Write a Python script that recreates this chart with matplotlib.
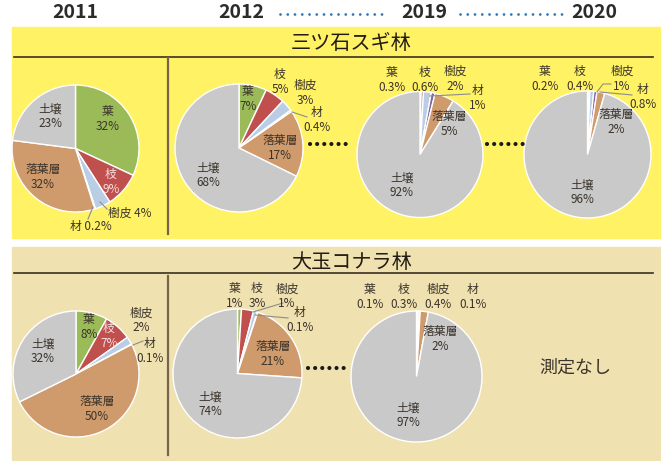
import matplotlib
matplotlib.use('Agg')
import matplotlib.pyplot as plt
from matplotlib.patches import Rectangle

plt.rcParams['font.family'] = ['Noto Sans CJK JP', 'DejaVu Sans']

W, H = 661, 461

# data
categories = ['葉', '枝', '樹皮', '材', '落葉層', '土壌']
years = ['2011', '2012', '2019', '2020']
forest_names = ['三ツ石スギ林', '大玉コナラ林']
no_data = '測定なし'

sugi_2011 = [32, 9, 4, 0.2, 32, 23]
sugi_2012 = [7, 5, 3, 0.4, 17, 68]
sugi_2019 = [0.3, 0.6, 2, 1, 5, 92]
sugi_2020 = [0.2, 0.4, 1, 0.8, 2, 96]
konara_2011 = [8, 7, 2, 0.1, 50, 32]
konara_2012 = [1, 3, 1, 0.1, 21, 74]
konara_2019 = [0.1, 0.3, 0.4, 0.1, 2, 97]

colors = ['#9BBB59', '#C0504D', '#B9CDE5', '#8064A2', '#CF9A6C', '#C9C9C9']
text_color = '#3b342c'
line_color = '#75654d'


def fmt(v):
    return f'{v:g}%'


def draw_pie(ax, cx, cy, r, values, label_pos, leaders=(), single=(), white=()):
    ax.pie(values, colors=colors, startangle=90, counterclock=False,
           center=(cx, H - cy), radius=r, frame=True,
           wedgeprops=dict(edgecolor='white', linewidth=1.0))
    for i, (cat, v) in enumerate(zip(categories, values)):
        x, y = label_pos[i]
        sep = ' ' if i in single else '\n'
        ax.text(x, H - y, cat + sep + fmt(v), ha='center', va='center',
                fontsize=8.5, linespacing=1.15, zorder=5,
                color='#f6dede' if i in white else text_color)
    for pts in leaders:
        ax.plot([p[0] for p in pts], [H - p[1] for p in pts],
                color='#8c8c8c', lw=0.8, zorder=4)


fig = plt.figure(figsize=(W / 100, H / 100), dpi=100)
ax = fig.add_axes([0, 0, 1, 1])

# panels
ax.add_patch(Rectangle((12, H - 238), W - 12, 211, color='#FFF264', zorder=0))
ax.add_patch(Rectangle((12, 0), W - 12, H - 247, color='#F0E1B0', zorder=0))

for title, ty, ly in [(forest_names[0], 44, 57), (forest_names[1], 263, 273)]:
    ax.text(351, H - ty, title, ha='center', va='center', fontsize=14.5,
            color='#231c14')
    ax.plot([14, 653], [H - ly, H - ly], color='#3a3020', lw=1.2)
ax.plot([168, 168], [H - 58, H - 234], color=line_color, lw=1.6)
ax.plot([168, 168], [H - 276, H - 455], color=line_color, lw=1.6)

# years
for yr, x in zip(years, [75, 241, 424, 594]):
    ax.text(x, H - 13, yr, ha='center', va='center', fontsize=14,
            fontweight='bold', color='#2b2b2b')
for x1, x2 in [(280, 388), (460, 564)]:
    ax.plot([x1, x2], [H - 14, H - 14], color='#2E75B6', lw=2,
            ls=(0, (0.01, 2.6)), dash_capstyle='round')

# dotted separators between pies
for x1, x2, y in [(310, 347, 144), (487, 525, 144), (308, 347, 368)]:
    ax.plot([x1, x2], [H - y, H - y], color='#1a1a1a', lw=3,
            ls=(0, (0.01, 1.7)), dash_capstyle='round')

draw_pie(ax, 75.5, 148.5, 63.5, sugi_2011,
         [(108, 119), (111, 182), (130, 213), (91, 226), (43, 177), (50, 116)],
         leaders=[[(100, 202), (107, 209)], [(93, 207), (88, 219)]],
         single=(2, 3), white=(1,))
draw_pie(ax, 239, 148, 64, sugi_2012,
         [(248, 99), (280, 82), (305, 93), (317, 120), (280, 148), (208, 175)],
         leaders=[[(292, 112), (307, 117)]])
draw_pie(ax, 420, 154.5, 63, sugi_2019,
         [(392, 80), (425, 80), (455, 79), (478, 98), (449, 124), (402, 185)],
         leaders=[[(430, 96), (470, 94)]])
draw_pie(ax, 587.5, 154.5, 63.5, sugi_2020,
         [(545, 79), (580, 79), (622, 79), (643, 97), (616, 122), (582, 192)],
         leaders=[[(597, 92), (603, 84), (611, 84)], [(600, 92), (632, 95)]])

draw_pie(ax, 76, 374, 63, konara_2011,
         [(89, 327), (109, 336), (141, 320), (150, 351), (97, 409), (43, 351)],
         leaders=[[(133, 345), (143, 341)]], white=(1,))
draw_pie(ax, 237.5, 373.5, 64.5, konara_2012,
         [(235, 296), (257, 296), (287, 296), (300, 320), (273, 354), (210, 404)],
         leaders=[[(283, 303), (253, 312)], [(255, 315), (288, 318)]])
draw_pie(ax, 416.5, 376.5, 65.5, konara_2019,
         [(370, 297), (404, 297), (438, 297), (473, 297), (440, 339), (408, 415)])

ax.text(575, H - 368, no_data, ha='center', va='center', fontsize=13,
        color=text_color)

ax.set_xlim(0, W)
ax.set_ylim(0, H)
ax.set_aspect('equal')
ax.axis('off')

fig.savefig('out.png', dpi=100, facecolor='white')
